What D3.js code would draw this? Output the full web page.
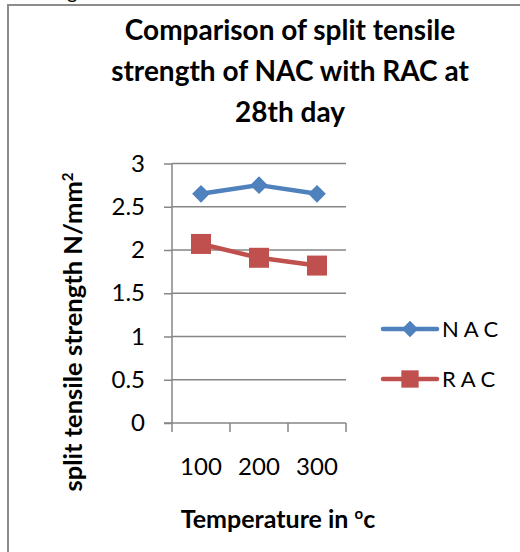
<!DOCTYPE html>
<html>
<head>
<meta charset="utf-8">
<script src="https://cdn.jsdelivr.net/npm/d3@7"></script>
<style>
  body { margin: 0; background: #fff; }
  svg text { font-family: Lato, "Open Sans", sans-serif; fill: #000; }
</style>
</head>
<body>
<svg id="chart" width="520" height="552"></svg>
<script>
// chart data
const temperatures = ['100', '200', '300'];
const nacValues = [2.65, 2.75, 2.65];
const racValues = [2.07, 1.91, 1.82];
const yTicks = [0, 0.5, 1, 1.5, 2, 2.5, 3];
const seriesNames = ['N A C', 'R A C'];
const titleLines = ['Comparison of split tensile', 'strength of NAC with RAC at', '28th day'];

const svg = d3.select('#chart');

// stray glyph from the caption above the figure
svg.append('text')
    .attr('x', 67).attr('y', -1)
    .style('font-size', '20px')
    .text('g');

// outer frame
svg.append('rect')
    .attr('x', 8).attr('y', 5)
    .attr('width', 530).attr('height', 560)
    .attr('fill', 'none')
    .attr('stroke', '#8c8c8c')
    .attr('stroke-width', 2);

// title
svg.append('g').selectAll('text')
    .data(titleLines)
    .join('text')
        .attr('x', 290)
        .attr('y', (d, i) => 40 + i * 41)
        .attr('text-anchor', 'middle')
        .style('font-size', '28px')
        .style('font-weight', 'bold')
        .text(d => d);

const margin = {left: 172, top: 163.5, right: 346, bottom: 423};

const x = d3.scaleBand()
    .domain(temperatures)
    .range([margin.left, margin.right]);

const y = d3.scaleLinear()
    .domain([0, 3])
    .range([margin.bottom, margin.top]);

// gridlines
svg.append('g').selectAll('line')
    .data(yTicks.filter(d => d > 0))
    .join('line')
        .attr('x1', margin.left).attr('x2', margin.right)
        .attr('y1', d => y(d)).attr('y2', d => y(d))
        .attr('stroke', '#868686')
        .attr('stroke-width', 1.5);

// y axis
const yAxisG = svg.append('g')
    .attr('transform', `translate(${margin.left},0)`)
    .call(d3.axisLeft(y).tickValues(yTicks).tickSize(8).tickPadding(19).tickFormat(d3.format('')));
yAxisG.selectAll('line, path').attr('stroke', '#868686').attr('stroke-width', 1.5);
yAxisG.select('.domain').attr('d', `M0,${margin.bottom}V${margin.top}`);
yAxisG.selectAll('text').style('font-size', '24px').attr('fill', '#000');

// x axis: tick marks on the category boundaries
const xAxisG = svg.append('g')
    .attr('transform', `translate(0,${margin.bottom})`);
xAxisG.append('line')
    .attr('x1', margin.left - 8).attr('x2', margin.right)
    .attr('stroke', '#868686').attr('stroke-width', 1.5);
const bounds = temperatures.map(t => x(t)).concat([x(temperatures[temperatures.length - 1]) + x.bandwidth()]);
xAxisG.selectAll('.xt')
    .data(bounds)
    .join('line')
        .attr('class', 'xt')
        .attr('x1', d => d).attr('x2', d => d)
        .attr('y1', 0).attr('y2', 9)
        .attr('stroke', '#868686').attr('stroke-width', 1.5);
xAxisG.selectAll('.xl')
    .data(temperatures)
    .join('text')
        .attr('class', 'xl')
        .attr('x', d => x(d) + x.bandwidth() / 2)
        .attr('y', 52)
        .attr('text-anchor', 'middle')
        .style('font-size', '24px')
        .text(d => d);

// axis titles
const xTitle = svg.append('text')
    .attr('x', 278).attr('y', 528)
    .attr('text-anchor', 'middle')
    .style('font-size', '25px')
    .style('font-weight', 'bold');
xTitle.append('tspan').text('Temperature in ');
xTitle.append('tspan').attr('dy', -9).style('font-size', '15px').text('o');
xTitle.append('tspan').attr('dy', 9).text('c');

const yTitle = svg.append('text')
    .attr('transform', 'translate(82,332) rotate(-90)')
    .attr('text-anchor', 'middle')
    .style('font-size', '25.5px')
    .style('font-weight', 'bold');
yTitle.append('tspan').text('split tensile strength N/mm');
yTitle.append('tspan').attr('dy', -9).style('font-size', '15px').text('2');

// series
const series = [
    {name: seriesNames[0], values: nacValues, color: '#4f81bd', shape: d3.symbolDiamond2},
    {name: seriesNames[1], values: racValues, color: '#c0504d', shape: d3.symbolSquare}
];
const line = d3.line()
    .x((d, i) => x(temperatures[i]) + x.bandwidth() / 2)
    .y(d => y(d));

series.forEach(s => {
    svg.append('path')
        .datum(s.values)
        .attr('d', line)
        .attr('fill', 'none')
        .attr('stroke', s.color)
        .attr('stroke-width', 4.5)
        .attr('stroke-linejoin', 'round');
    const size = s.shape === d3.symbolSquare ? 400 : 200;
    svg.append('g').selectAll('path')
        .data(s.values)
        .join('path')
            .attr('transform', (d, i) => `translate(${x(temperatures[i]) + x.bandwidth() / 2},${y(d)})`)
            .attr('d', d3.symbol(s.shape, size))
            .attr('fill', s.color);
});

// legend
const legend = svg.append('g').selectAll('g')
    .data(series)
    .join('g')
        .attr('transform', (d, i) => `translate(383,${329 + i * 50})`);
legend.append('line')
    .attr('x1', 0).attr('x2', 54)
    .attr('stroke', d => d.color)
    .attr('stroke-width', 4.5)
    .attr('stroke-linecap', 'round');
legend.append('path')
    .attr('transform', 'translate(27,0)')
    .attr('d', d => d3.symbol(d.shape, d.shape === d3.symbolSquare ? 300 : 170)())
    .attr('fill', d => d.color);
legend.append('text')
    .attr('x', 59).attr('y', 8)
    .style('font-size', '22px')
    .text(d => d.name);
</script>
</body>
</html>
